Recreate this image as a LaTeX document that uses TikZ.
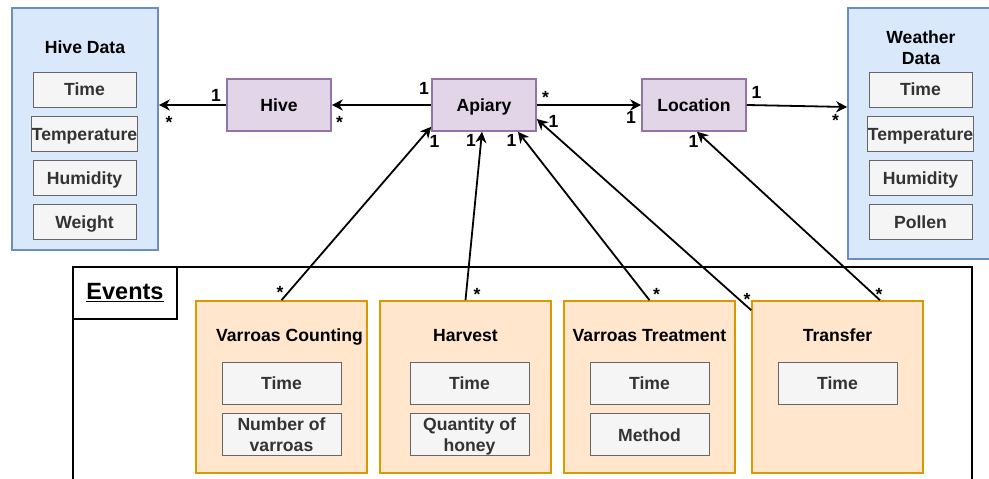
\documentclass[tikz,border=0pt]{standalone}
\usepackage{fontspec}
\setmainfont{Liberation Sans}
\usetikzlibrary{arrows.meta,
                positioning}
\definecolor{datafill}{HTML}{DAE8FC}
\definecolor{dataline}{HTML}{6C8EBF}
\definecolor{fieldfill}{HTML}{F5F5F5}
\definecolor{fieldline}{HTML}{666666}
\definecolor{fieldtext}{HTML}{333333}
\definecolor{entityfill}{HTML}{E1D5E7}
\definecolor{entityline}{HTML}{9673A6}
\definecolor{eventfill}{HTML}{FFE6CC}
\definecolor{eventline}{HTML}{D79B00}
\newcommand{\diagfont}{\fontsize{17.6}{20.5}\selectfont\bfseries}
\tikzset{group/.style=
   {rectangle,
    draw=dataline,
    fill=datafill,
    line width=1.6pt,
    minimum width=146pt,
    minimum height=242pt}}
\tikzset{grouptitle/.style=
   {font=\diagfont,
    inner sep=0pt,
    anchor=base}}
\tikzset{field/.style =
   {rectangle,
    draw=fieldline,
    fill=fieldfill,
    text=fieldtext,
    font=\diagfont,
    line width=0.8pt,
    inner sep=0pt,
    text height=12.6pt,
    text depth=0pt,
    minimum width=103pt,
    minimum height=35pt}}
\tikzset{field-two-lines/.style =
   {field,
    align=center,
    text height=,
    text depth=0pt}}
\tikzset{entity/.style =
   {rectangle,
    draw=entityline,
    fill=entityfill,
    font=\diagfont,
    line width=1.6pt,
    text height=12.6pt,
    text depth=0pt,
    minimum width=104pt,
    minimum height=52pt}}
\tikzset{event/.style =
   {rectangle,
    draw=eventline,
    fill=eventfill,
    line width=1.6pt,
    minimum width=171pt,
    minimum height=172pt}}
\tikzset{frame/.style =
   {rectangle,
    draw,
    line width=1.6pt}}
\tikzset{mult/.style = {font=\diagfont, inner sep=0pt, anchor=base}}
\tikzset{arrow/.style = {draw, line width=1.8pt,
    -{Stealth[length=11pt, width=11pt, inset=3.5pt]}}}

\begin{document}
\begin{tikzpicture}[x=1pt, y=1pt]
    \useasboundingbox (0,0) rectangle (989,479);

    % frame round the events
    \node [frame,
           minimum width=899pt,
           minimum height=228pt] (events) at (522.5,98) {};
    \node [frame,
           fill=white,
           font=\fontsize{23.5}{26}\selectfont\bfseries,
           minimum width=104pt,
           minimum height=52pt,
           anchor=north west] (events-label) at (events.north west)
    {\underline{Events}};

    % hive data
    \node [group] (hivedata) at (85,350) {};
    \node [grouptitle] (hivedata-title) at (85,425.7) {Hive Data};
    \node [field] (hd-time) at (84.5,389.5) {Time};
    \node [field,
           below = 8.5pt of hd-time] (hd-temperature) {Temperature};
    \node [field,
           below = 8.5pt of hd-temperature] (hd-humidity) {Humidity};
    \node [field,
           below = 8.5pt of hd-humidity] (hd-weight) {Weight};

    % weather data
    \node [group,
           minimum height=251pt] (weatherdata) at (921,345.5) {};
    \node [grouptitle,
           anchor=center,
           align=center] (weatherdata-title) at (921,431.5) {Weather\\Data};
    \node [field] (wd-time) at (920.5,389.5) {Time};
    \node [field,
           below = 8.5pt of wd-time] (wd-temperature) {Temperature};
    \node [field,
           below = 8.5pt of wd-temperature] (wd-humidity) {Humidity};
    \node [field,
           below = 8.5pt of wd-humidity] (wd-pollen) {Pollen};

    % entities
    \node [entity] (hive) at (279,374) {Hive};
    \node [entity] (apiary) at (484,374) {Apiary};
    \node [entity] (location) at (694,374) {Location};

    % events
    \node [event] (counting) at (281.5,92) {};
    \node [grouptitle] (counting-title) at (289.5,137.3) {Varroas Counting};
    \node [field,
           minimum width=119pt,
           minimum height=42pt] (counting-time) at (281.5,96) {Time};
    \node [field-two-lines,
           minimum width=119pt,
           minimum height=42pt,
           below = 9pt of counting-time] (counting-number) {Number of\\varroas};

    \node [event] (harvest) at (465.5,92) {};
    \node [grouptitle] (harvest-title) at (465.5,137.3) {Harvest};
    \node [field,
           minimum width=119pt,
           minimum height=42pt] (harvest-time) at (469.5,96) {Time};
    \node [field-two-lines,
           minimum width=119pt,
           minimum height=42pt,
           below = 9pt of harvest-time] (harvest-quantity) {Quantity of\\honey};

    \node [event] (treatment) at (649.5,92) {};
    \node [grouptitle] (treatment-title) at (649.5,137.3) {Varroas Treatment};
    \node [field,
           minimum width=119pt,
           minimum height=42pt] (treatment-time) at (649.5,96) {Time};
    \node [field,
           minimum width=119pt,
           minimum height=42pt,
           below = 9pt of treatment-time] (treatment-method) {Method};

    \node [event] (transfer) at (837.5,92) {};
    \node [grouptitle] (transfer-title) at (837.5,137.3) {Transfer};
    \node [field,
           minimum width=119pt,
           minimum height=42pt] (transfer-time) at (837.5,96) {Time};

    % associations
    \draw [arrow] (hive.west) -- (hive.west -| hivedata.east);
    \draw [arrow] (apiary.west) -- (hive.east);
    \draw [arrow] (apiary.east) -- (location.west);
    \draw [arrow] (location.east) -- ([yshift=-2pt]location.east -| weatherdata.west);
    \draw [arrow] (counting.north) -- ([yshift=5pt]apiary.south west);
    \draw [arrow] (harvest.north) -- ([xshift=-2pt]apiary.south);
    \draw [arrow] (treatment.north) -- ([xshift=34pt]apiary.south);
    \draw [arrow] ([yshift=-10pt]transfer.north west) -- ([yshift=-14pt]apiary.east);
    \draw [arrow] ([xshift=42.5pt]transfer.north) -- ([xshift=3pt]location.south);

    % multiplicities
    \node [mult] (hive-one) at (216,377) {1};
    \node [mult] (hivedata-many) at (169,350) {*};
    \node [mult] (apiary-one-hive) at (424,384) {1};
    \node [mult] (hive-many) at (339.5,350.5) {*};
    \node [mult] (apiary-many) at (545.5,375.5) {*};
    \node [mult] (location-one-apiary) at (631,355) {1};
    \node [mult] (location-one) at (756.5,380) {1};
    \node [mult] (weatherdata-many) at (835.5,352.5) {*};
    \node [mult] (location-one-transfer) at (693.5,331) {1};
    \node [mult] (apiary-one-counting) at (434.5,331) {1};
    \node [mult] (apiary-one-harvest) at (471,332) {1};
    \node [mult] (apiary-one-treatment) at (511.5,332) {1};
    \node [mult] (apiary-one-transfer) at (553.5,351) {1};
    \node [mult] (counting-many) at (280,180.5) {*};
    \node [mult] (harvest-many) at (477,178) {*};
    \node [mult] (treatment-many) at (656.5,178) {*};
    \node [mult] (transfer-many-apiary) at (747,173.5) {*};
    \node [mult] (transfer-many) at (879,178) {*};

\end{tikzpicture}
\end{document}
